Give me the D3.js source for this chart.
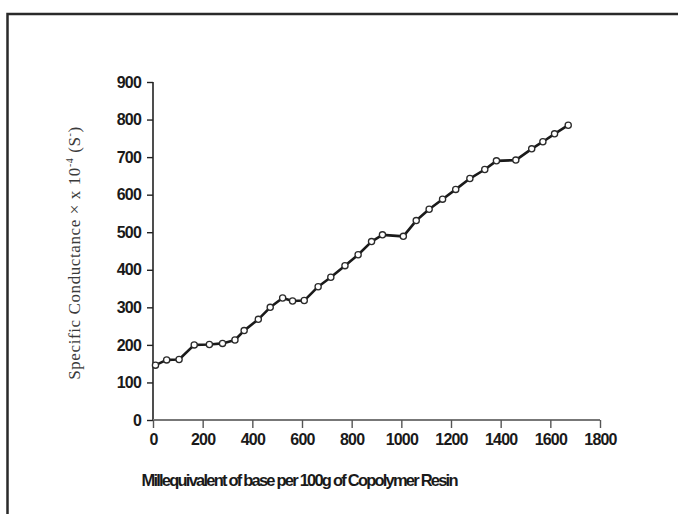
<!DOCTYPE html>
<html>
<head>
<meta charset="utf-8">
<script src="https://cdn.jsdelivr.net/npm/d3@7"></script>
<style>
  html, body { margin: 0; padding: 0; background: #fff; }
  svg { display: block; }
</style>
</head>
<body>
<svg id="chart" width="678" height="514"></svg>
<script>
// Base added (meq per 100 g resin) and measured specific conductance
const baseAdded = [10, 55, 105, 166, 227, 280, 330, 367, 424, 472, 522, 562, 609, 665, 716, 773,
                   826, 880, 924, 1008, 1060, 1112, 1166, 1219, 1276, 1336, 1383, 1461, 1525, 1570, 1617, 1672];
const conductance = [146, 160, 161, 200, 201, 204, 213, 238, 268, 300, 325, 317, 318, 355, 380, 411,
                     440, 475, 493, 489, 531, 561, 588, 614, 643, 667, 690, 692, 722, 741, 762, 785];
const xTicks = [0, 200, 400, 600, 800, 1000, 1200, 1400, 1600, 1800];
const yTicks = [0, 100, 200, 300, 400, 500, 600, 700, 800, 900];

const svg = d3.select("#chart");

// outer frame (runs off the right and bottom edges)
svg.append("rect")
  .attr("x", 7.5).attr("y", 14)
  .attr("width", 720).attr("height", 560)
  .attr("fill", "none").attr("stroke", "#2a2a2a").attr("stroke-width", 2.5);

const x = d3.scaleLinear().domain([0, 1800]).range([153, 600]);
const y = d3.scaleLinear().domain([0, 900]).range([420, 82]);

const tickFont = sel => sel
  .attr("fill", "#1a1a1a")
  .style("font-family", "'Liberation Sans', Arial, sans-serif")
  .style("font-weight", "bold").style("font-size", "16px")
  .style("letter-spacing", "-0.8px");

// y axis
const yAxis = svg.append("g")
  .attr("transform", "translate(153,0)")
  .call(d3.axisLeft(y).tickValues(yTicks).tickFormat(d3.format("d"))
    .tickSize(6).tickSizeOuter(0).tickPadding(6));
yAxis.select(".domain").attr("stroke", "#222").attr("stroke-width", 1.6)
  .attr("d", `M0,${y(900)}V${y(0)}`);
yAxis.selectAll(".tick line").attr("stroke", "#222").attr("stroke-width", 1.4);
yAxis.selectAll(".tick text").call(tickFont);

// x axis
const xAxis = svg.append("g")
  .attr("transform", "translate(0,420)")
  .call(d3.axisBottom(x).tickValues(xTicks).tickFormat(d3.format("d"))
    .tickSize(8).tickSizeOuter(0).tickPadding(6));
xAxis.select(".domain").attr("stroke", "#777").attr("stroke-width", 2)
  .attr("d", `M${x(0)},0H${x(1800)}`);
xAxis.selectAll(".tick line").attr("stroke", "#555").attr("stroke-width", 1.4);
xAxis.selectAll(".tick text").call(tickFont);

// conductance curve
const pts = baseAdded.map((b, i) => [b, conductance[i]]);
svg.append("path")
  .datum(pts)
  .attr("fill", "none").attr("stroke", "#1a1a1a").attr("stroke-width", 2.6)
  .attr("stroke-linejoin", "round")
  .attr("d", d3.line().x(d => x(d[0])).y(d => y(d[1])));

svg.append("g").selectAll("circle")
  .data(pts).join("circle")
  .attr("cx", d => x(d[0])).attr("cy", d => y(d[1])).attr("r", 3.1)
  .attr("fill", "#fff").attr("stroke", "#2a2a2a").attr("stroke-width", 1.3);

// axis titles
svg.append("text")
  .attr("x", 300).attr("y", 486)
  .attr("text-anchor", "middle")
  .attr("textLength", 317).attr("lengthAdjust", "spacing")
  .attr("fill", "#1a1a1a")
  .style("font-family", "'Liberation Sans', Arial, sans-serif")
  .style("font-weight", "bold").style("font-size", "16.5px")
  .text("Millequivalent of base per 100g of Copolymer Resin");

const yt = svg.append("text")
  .attr("transform", "translate(80,253) rotate(-90)")
  .attr("text-anchor", "middle")
  .attr("fill", "#3a3a3a")
  .style("font-family", "'Liberation Serif', 'Times New Roman', serif")
  .style("font-size", "17px")
  .style("letter-spacing", "0.6px");
yt.append("tspan").text("Specific Conductance × x 10");
yt.append("tspan").attr("dy", -7).style("font-size", "10px").text("-4");
yt.append("tspan").attr("dy", 7).text(" (S");
yt.append("tspan").attr("dy", -7).style("font-size", "10px").text("-");
yt.append("tspan").attr("dy", 7).text(")");
</script>
</body>
</html>
